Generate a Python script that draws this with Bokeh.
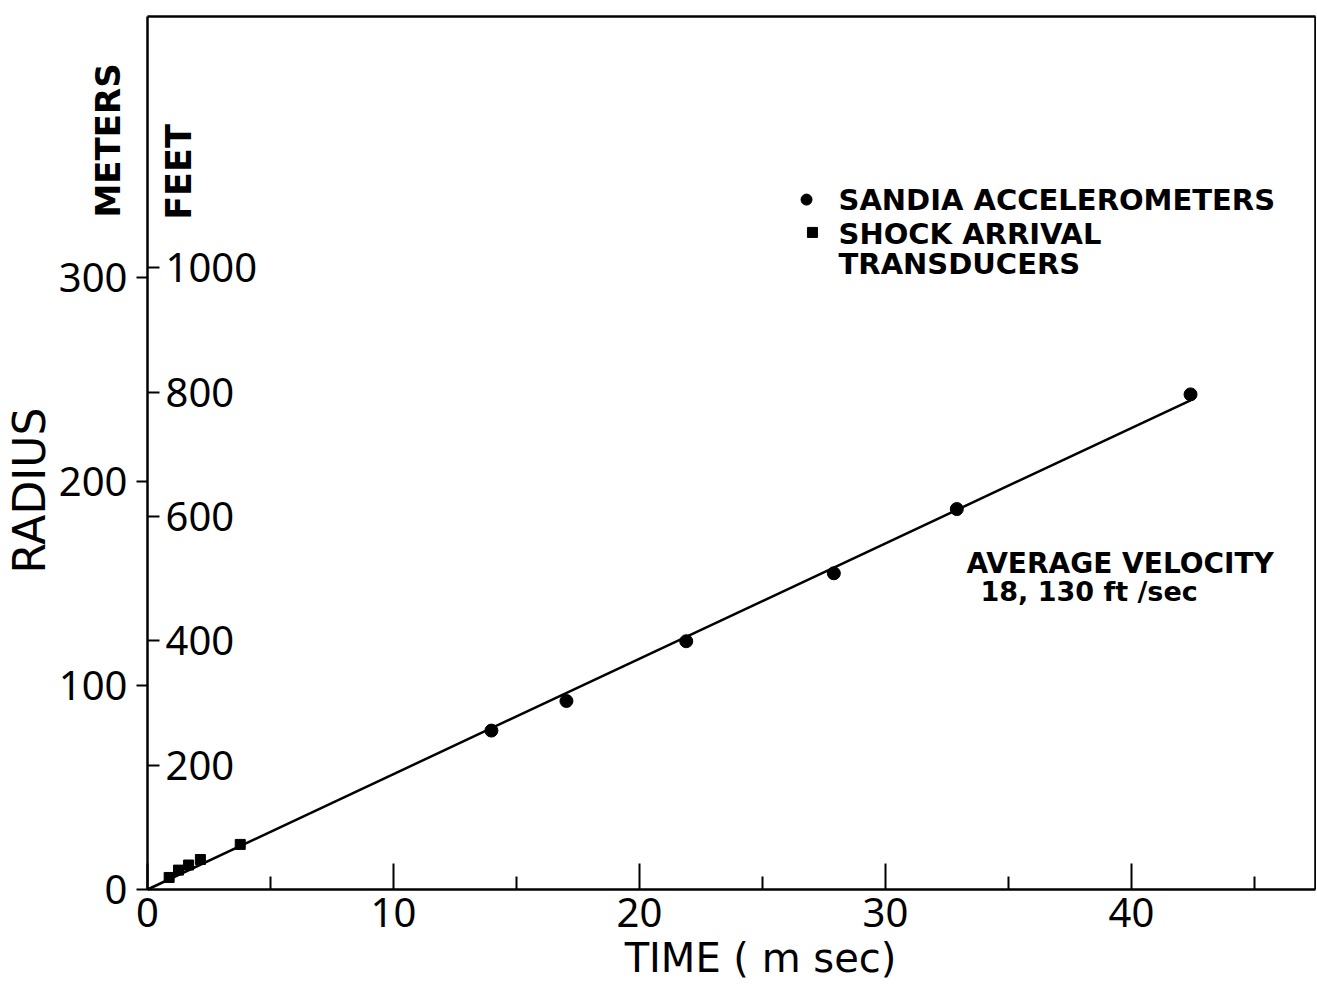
import math
from bokeh.plotting import figure
from bokeh.models import Label, FixedTicker, Range1d, LinearAxis
from bokeh.core.properties import value
from bokeh.embed import file_html
from bokeh.resources import INLINE

# ---- data ----
acc_time = [13.98, 17.03, 21.9, 27.9, 32.9, 42.4]          # ms, Sandia accelerometers
acc_radius = [77.9, 92.4, 121.7, 155.0, 186.5, 242.7]       # m
sat_time = [0.88, 1.26, 1.67, 2.15, 3.77]                   # ms, shock arrival transducers
sat_radius = [5.9, 9.5, 12.0, 14.7, 22.1]                   # m
fit_time = [0.0, 42.4]
fit_radius = [0.0, 239.8]

x_ticks = [0, 10, 20, 30, 40]
x_minor = [5, 15, 25, 35, 45]
meter_ticks = [0, 100, 200, 300]
feet_ticks = [200, 400, 600, 800, 1000]
FT_TO_M = 0.3048

legend_labels = ["SANDIA  ACCELEROMETERS", "SHOCK ARRIVAL", "TRANSDUCERS"]

# plotted box (data limits of the drawn frame)
T_MAX = 47.48
R_MAX = 427.9

FONT = "DejaVu Sans"
NUM_FONT = "Noto Sans"

W, H = 1316, 983
PX_PER_MS = 24.6
PX_PER_M = 2.04
ORIGIN_X, ORIGIN_Y = 147, 889
x0 = -ORIGIN_X / PX_PER_MS
x1 = (W - ORIGIN_X) / PX_PER_MS
y0 = -(H - ORIGIN_Y) / PX_PER_M
y1 = ORIGIN_Y / PX_PER_M

p = figure(width=W, height=H, title=None,
           x_range=Range1d(x0, x1), y_range=Range1d(y0, y1),
           output_backend="svg", toolbar_location=None,
           min_border_left=0, min_border_right=0,
           min_border_top=0, min_border_bottom=0)
p.extra_y_ranges = {"feet": Range1d(y0 / FT_TO_M, y1 / FT_TO_M)}

p.background_fill_color = "white"
p.border_fill_color = "white"
p.outline_line_color = None
p.xgrid.visible = False
p.ygrid.visible = False

# time axis (bottom)
xa = p.xaxis[0]
xa.fixed_location = 0
xa.bounds = (0, T_MAX)
xa.ticker = FixedTicker(ticks=x_ticks, minor_ticks=x_minor)
xa.major_tick_in = 26
xa.major_tick_out = 0
xa.minor_tick_in = 13
xa.minor_tick_out = 0
xa.axis_line_width = 2.5
xa.axis_line_color = "black"
xa.major_tick_line_width = 2
xa.minor_tick_line_width = 2
xa.major_tick_line_color = "black"
xa.minor_tick_line_color = "black"
xa.major_label_text_font = NUM_FONT
xa.major_label_text_font_size = "40px"
xa.major_label_text_color = "black"
xa.major_label_standoff = 8

# meters axis (left)
ya = p.yaxis[0]
ya.fixed_location = 0
ya.bounds = (0, R_MAX)
ya.ticker = FixedTicker(ticks=meter_ticks, minor_ticks=[])
ya.major_tick_in = 0
ya.major_tick_out = 11
ya.minor_tick_in = 0
ya.minor_tick_out = 0
ya.axis_line_width = 2.5
ya.axis_line_color = "black"
ya.major_tick_line_width = 2
ya.major_tick_line_color = "black"
ya.major_label_text_font = NUM_FONT
ya.major_label_text_font_size = "40px"
ya.major_label_text_color = "black"
ya.major_label_standoff = 9
ya.major_label_orientation = "horizontal"

# feet axis (drawn on the same vertical line, labels inside)
fa = LinearAxis(y_range_name="feet", fixed_location=0,
                ticker=FixedTicker(ticks=feet_ticks, minor_ticks=[]),
                bounds=(0, R_MAX / FT_TO_M),
                axis_line_color=None,
                major_tick_in=0, major_tick_out=12,
                minor_tick_in=0, minor_tick_out=0,
                major_tick_line_width=2, major_tick_line_color="black",
                major_label_text_font=NUM_FONT,
                major_label_text_font_size="40px",
                major_label_text_color="black",
                major_label_standoff=6,
                major_label_orientation="horizontal")
p.add_layout(fa, "right")

# top and right borders of the box
top_border = LinearAxis(fixed_location=R_MAX, bounds=(0, T_MAX),
                        ticker=FixedTicker(ticks=[], minor_ticks=[]),
                        axis_line_width=2.5, axis_line_color="black",
                        major_tick_line_color=None, minor_tick_line_color=None,
                        major_label_text_font_size="0px")
p.add_layout(top_border, "above")
right_border = LinearAxis(fixed_location=T_MAX, bounds=(0, R_MAX),
                          ticker=FixedTicker(ticks=[], minor_ticks=[]),
                          axis_line_width=2.5, axis_line_color="black",
                          major_tick_line_color=None, minor_tick_line_color=None,
                          major_label_text_font_size="0px")
p.add_layout(right_border, "right")

# fitted line and data
p.line(fit_time, fit_radius, line_color="black", line_width=2.5)
p.scatter(acc_time, acc_radius, marker="circle", size=13, color="black")
p.scatter(sat_time, sat_radius, marker="square", size=10, color="black")

# legend keys and texts
p.scatter([26.79], [338.2], marker="circle", size=11, color="black")
p.scatter([27.03], [322.1], marker="square", size=10, color="black")
legend_y = [338.0, 321.4, 306.4]
p.text(x=[28.09] * 3, y=legend_y, text=legend_labels,
       text_align="left", text_baseline="alphabetic",
       text_font=value(FONT), text_font_style="bold",
       text_font_size="29px", text_color="black")

p.add_layout(Label(x=33.29, y=160.0, text="AVERAGE VELOCITY",
                   text_align="left", text_baseline="alphabetic",
                   text_font=FONT, text_font_style="bold",
                   text_font_size="28px", text_color="black"))
p.add_layout(Label(x=33.86, y=146.0, text="18, 130 ft /sec",
                   text_align="left", text_baseline="alphabetic",
                   text_font=FONT, text_font_style="bold",
                   text_font_size="27px", text_color="black"))

# axis titles
p.add_layout(Label(x=-4.80, y=195.6, text="RADIUS", angle=math.pi / 2,
                   text_align="center", text_baseline="middle",
                   text_font=FONT, text_font_size="44px", text_color="black"))
p.add_layout(Label(x=-1.61, y=367.2, text="METERS", angle=math.pi / 2,
                   text_align="center", text_baseline="middle",
                   text_font=FONT, text_font_style="bold",
                   text_font_size="34px", text_color="black"))
p.add_layout(Label(x=1.28, y=351.7, text="FEET", angle=math.pi / 2,
                   text_align="center", text_baseline="middle",
                   text_font=FONT, text_font_style="bold",
                   text_font_size="35px", text_color="black"))
p.add_layout(Label(x=24.92, y=-33.6, text="TIME ( m sec)",
                   text_align="center", text_baseline="middle",
                   text_font=FONT, text_font_size="40px", text_color="black"))

open("out.html", "w").write(file_html(p, INLINE))
